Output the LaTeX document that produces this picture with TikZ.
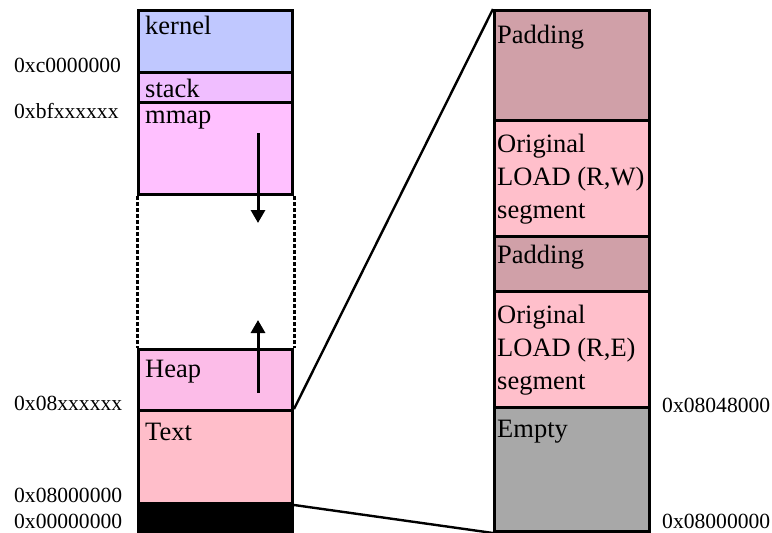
\documentclass[tikz,border=0pt]{standalone}
\usepackage{fontspec}
\setmainfont{Liberation Serif}
\usetikzlibrary{arrows.meta}

\definecolor{kernelc}{RGB}{192,200,255}
\definecolor{stackc}{RGB}{240,190,255}
\definecolor{mmapc}{RGB}{255,192,255}
\definecolor{heapc}{RGB}{252,188,232}
\definecolor{textc}{RGB}{255,190,202}
\definecolor{padc}{RGB}{208,160,168}
\definecolor{loadc}{RGB}{255,191,203}
\definecolor{emptyc}{RGB}{168,168,168}

\tikzset{
  seg/.style={draw=black, line width=3pt, rectangle, inner sep=0pt,
              minimum width=154pt, anchor=north west},
  lbl/.style={anchor=base west, inner sep=0pt, font=\fontsize{26.5}{33}\selectfont,
              align=left},
  addr/.style={anchor=base west, inner sep=0pt, font=\fontsize{21.6}{26}\selectfont},
  growarrow/.style={line width=3pt, -{Triangle[length=13pt,width=14pt]}},
  zoomline/.style={line width=2.4pt},
  gapline/.style={line width=3pt, dash pattern=on 3.5pt off 2.5pt},
}

\begin{document}
\begin{tikzpicture}[x=1pt,y=-1pt]
\useasboundingbox (0,0) rectangle (772,533);

% ---- process address space (left column) ----
\node[seg, fill=kernelc, minimum height=62pt] (kernel) at (137,9) {};
\node[seg, fill=stackc, minimum height=30pt] (stack) at (137,71) {};
\node[seg, fill=mmapc, minimum height=92pt] (mmap) at (137,101) {};
\node[seg, fill=heapc, minimum height=61pt] (heap) at (137,348) {};
\node[seg, fill=textc, minimum height=93pt] (text) at (137,409) {};
\node[seg, fill=black, minimum height=30pt] (zero) at (137,502) {};

% unmapped gap between mmap and heap
\draw[gapline] (mmap.south west) -- (heap.north west);
\draw[gapline] (mmap.south east) -- (heap.north east);

% growth directions
\coordinate (mmapfrom) at (258,133);
\coordinate (mmapto) at (258,223);
\coordinate (heapfrom) at (258,393);
\coordinate (heapto) at (258,320);
\draw[growarrow] (mmapfrom) -- (mmapto);
\draw[growarrow] (heapfrom) -- (heapto);

\node[lbl] (tkernel) at (145,34) {kernel};
\node[lbl] (tstack) at (145,97) {stack};
\node[lbl] (tmmap) at (145,123) {mmap};
\node[lbl] (theap) at (145,377) {Heap};
\node[lbl] (ttext) at (145,440) {Text};

\node[addr] (a1) at (14,72) {0xc0000000};
\node[addr] (a2) at (14,118) {0xbfxxxxxx};
\node[addr] (a3) at (14,410) {0x08xxxxxx};
\node[addr] (a4) at (14,502) {0x08000000};
\node[addr] (a5) at (14,528.5) {0x00000000};

% ---- detail of the text region (right column) ----
\node[seg, fill=padc, minimum width=155pt, minimum height=110pt] (pad1) at (493,9) {};
\node[seg, fill=loadc, minimum width=155pt, minimum height=116pt] (rw) at (493,119) {};
\node[seg, fill=padc, minimum width=155pt, minimum height=55pt] (pad2) at (493,235) {};
\node[seg, fill=loadc, minimum width=155pt, minimum height=116pt] (re) at (493,290) {};
\node[seg, fill=emptyc, minimum width=155pt, minimum height=124pt] (empty) at (493,406) {};

\node[lbl] (tpad1) at (497,43) {Padding};
\node[lbl, anchor=north west] (trw) at (497,134) {Original\\LOAD (R,W)\\segment};
\node[lbl] (tpad2) at (497,263) {Padding};
\node[lbl, anchor=north west] (tre) at (497,305) {Original\\LOAD (R,E)\\segment};
\node[lbl] (tempty) at (497,437) {Empty};

\node[addr] (b1) at (662,412) {0x08048000};
\node[addr] (b2) at (662,528.5) {0x08000000};

% zoom lines from the text segment to its detail
\draw[zoomline] (text.north east) -- (pad1.north west);
\draw[zoomline] (text.south east) -- (empty.south west);
\end{tikzpicture}
\end{document}
